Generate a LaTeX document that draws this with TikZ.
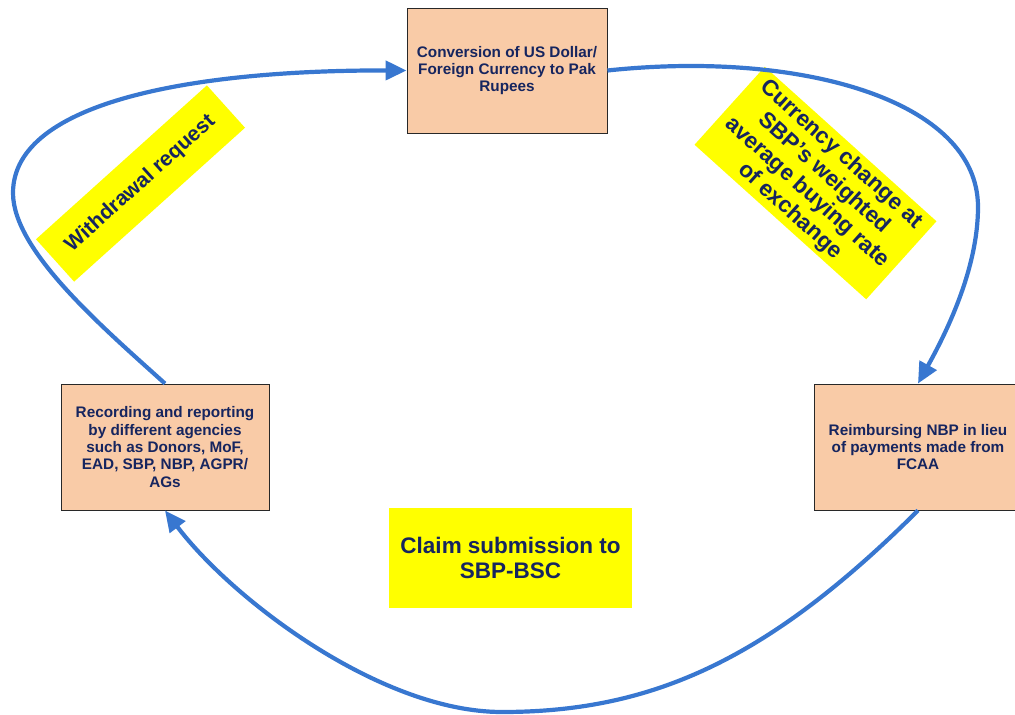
\documentclass[tikz,border=0pt]{standalone}
\usepackage{fontspec}
\setmainfont{Liberation Sans}
\usetikzlibrary{arrows.meta,shadows}

\definecolor{peach}{RGB}{249,203,167}
\definecolor{boxedge}{RGB}{40,40,40}
\definecolor{navy}{RGB}{22,37,95}
\definecolor{flowblue}{RGB}{56,119,208}
\definecolor{labelyellow}{RGB}{255,255,0}

\begin{document}
\begin{tikzpicture}[x=1pt,y=-1pt,
  stage/.style={draw=boxedge, line width=0.9pt, fill=peach,
    minimum width=200pt, minimum height=125pt, inner sep=0pt,
    align=center, text=navy, font=\fontsize{15.3}{17.3}\selectfont\bfseries,
    drop shadow={shadow xshift=1.4pt, shadow yshift=-1.4pt, opacity=0.55, fill=black!60}},
  tag/.style={fill=labelyellow, inner sep=0pt, align=center, text=navy,
    font=\fontsize{22.5}{25.5}\selectfont\bfseries},
  flow/.style={draw=flowblue, line width=4.2pt, -{Triangle[length=21pt,width=19pt]}}]

\useasboundingbox (0,0) rectangle (1015,715);

% process stages
\node[stage] (conv) at (507,70.5)
  {Conversion of US Dollar/\\Foreign Currency to Pak\\Rupees};
\node[stage, minimum width=208pt, minimum height=126pt] (rec) at (165,447)
  {Recording and reporting\\by different agencies\\such as Donors, MoF,\\EAD, SBP, NBP, AGPR/\\AGs};
\node[stage, minimum width=208pt, minimum height=126pt] (reimb) at (918,447)
  {Reimbursing NBP in lieu\\of payments made from\\FCAA};

% yellow step labels
\node[tag, minimum width=243pt, minimum height=100pt] (claim) at (510.5,558)
  {Claim submission to\\SBP-BSC};
\node[tag, minimum width=230pt, minimum height=57pt, rotate=42,
  font=\fontsize{21}{24}\selectfont\bfseries] (wd) at (140.5,183.5)
  {Withdrawal request};
\node[tag, minimum width=231pt, minimum height=105pt, rotate=-42] (fx) at (815.5,183)
  {Currency change at\\SBP’s weighted\\average buying rate\\of exchange};

% points the cycle passes through
\coordinate (westmost) at (13,193);
\coordinate (eastmost) at (978,207);
\coordinate (lowest) at (502,712);

% the cycle
\draw[flow] (rec.north) .. controls (100,325) and (13,250) .. (westmost)
  .. controls (13,100) and (200,70) .. (conv.west);
\draw[flow] (conv.east) .. controls (800,50) and (978,100) .. (eastmost)
  .. controls (978,270) and (945,335) .. (reimb.north);
\draw[flow] (reimb.south) .. controls (768,660) and (652,712) .. (lowest)
  .. controls (380,712) and (232,599) .. (rec.south);

\end{tikzpicture}
\end{document}
